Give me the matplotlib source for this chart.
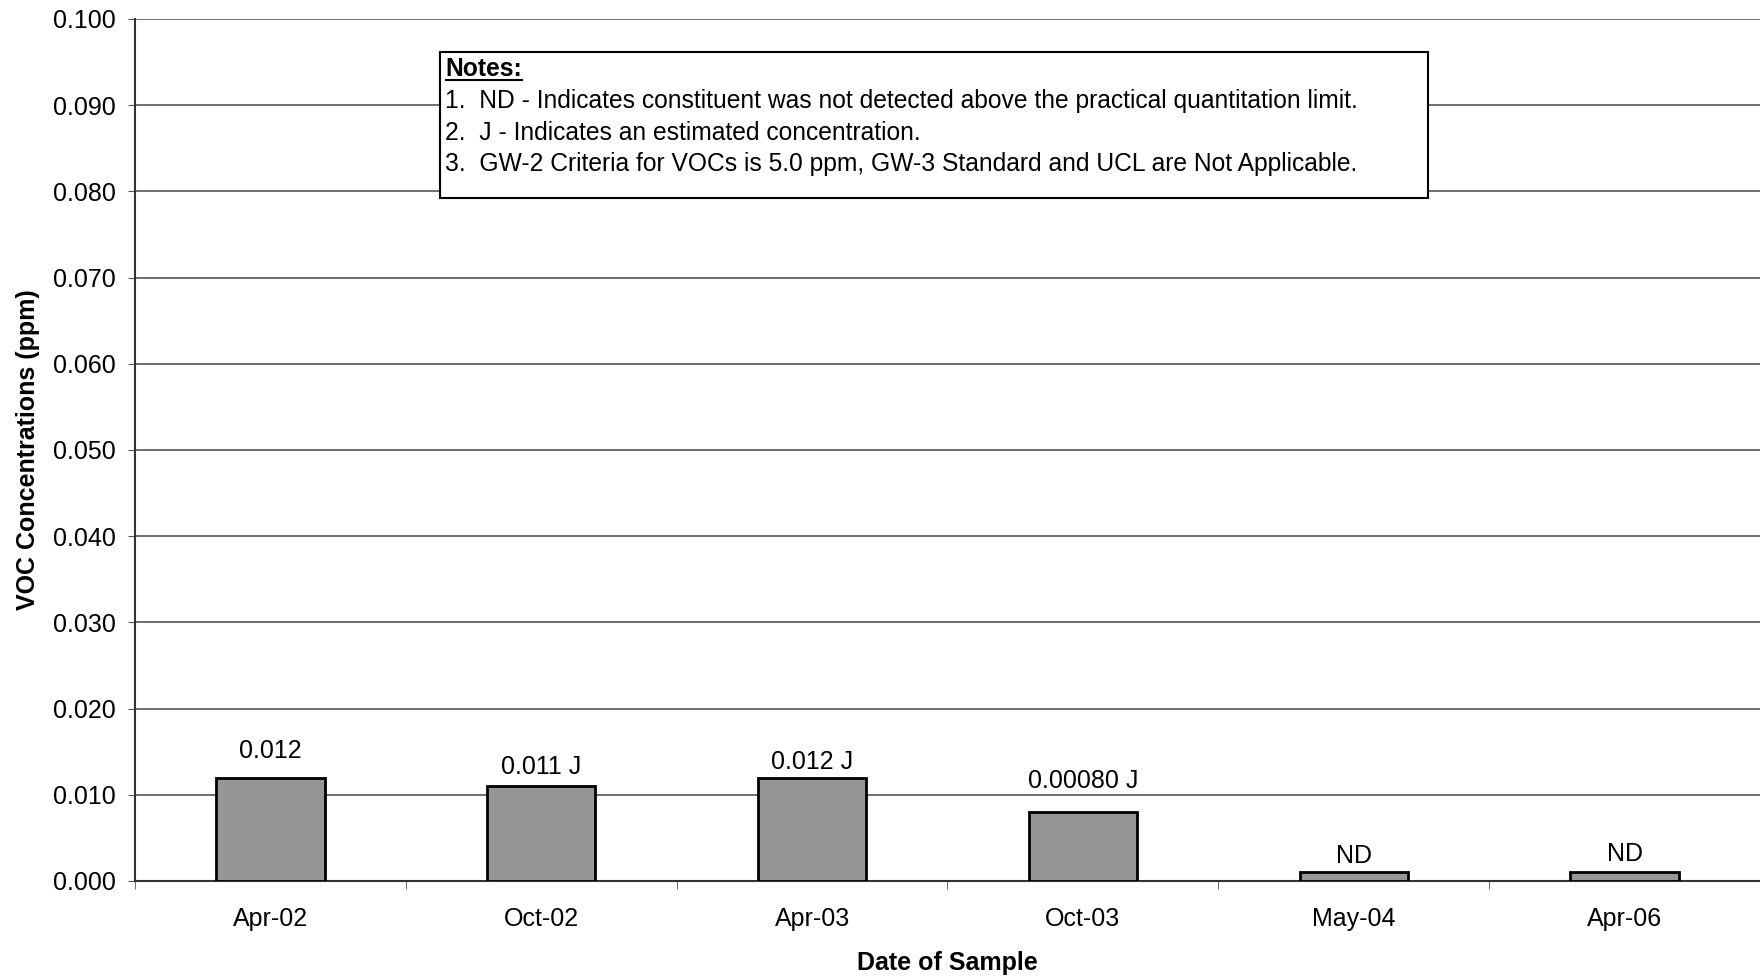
import matplotlib
matplotlib.use('Agg')
import matplotlib.pyplot as plt
import numpy as np

plt.rcParams['font.family'] = ['Liberation Sans', 'DejaVu Sans']

dates = ['Apr-02', 'Oct-02', 'Apr-03', 'Oct-03', 'May-04', 'Apr-06']
conc = [0.012, 0.011, 0.012, 0.008, 0.001, 0.001]
labels = ['0.012', '0.011 J', '0.012 J', '0.00080 J', 'ND', 'ND']
notes = ['1.  ND - Indicates constituent was not detected above the practical quantitation limit.',
         '2.  J - Indicates an estimated concentration.',
         '3.  GW-2 Criteria for VOCs is 5.0 ppm, GW-3 Standard and UCL are Not Applicable.']

fig = plt.figure(figsize=(17.6, 9.77), dpi=100)
ax = fig.add_axes([0.0767, 0.0983, 0.9233, 0.8823])

x = np.arange(len(dates))
ax.bar(x, conc, width=0.4, color='#969696', edgecolor='black', linewidth=2, zorder=3)

# label offsets (points) roughly as Excel placed them
offs = [19, 14, 11, 22, 12, 13]
for xi, v, lab, o in zip(x, conc, labels, offs):
    ax.annotate(lab, (xi, v), xytext=(0, o), textcoords='offset points',
                ha='center', va='center', fontsize=18)

ax.set_xlim(-0.5, len(dates) - 0.5)
ax.set_ylim(0, 0.1)
ax.set_yticks(np.arange(0, 0.1001, 0.01))
ax.set_yticklabels(['%.3f' % t for t in np.arange(0, 0.1001, 0.01)], fontsize=18)
ax.set_xticks(x)
ax.set_xticklabels(dates, fontsize=18)
ax.set_xticks(np.arange(-0.5, len(dates)), minor=True)
ax.tick_params(axis='x', which='major', length=0, pad=19)
ax.tick_params(axis='x', which='minor', length=6, color='#555555')
ax.tick_params(axis='y', length=5, color='#555555', pad=8.5)
ax.yaxis.grid(True, color='#555555', linewidth=1.2, zorder=0)
for s in ['top', 'right']:
    ax.spines[s].set_visible(False)
ax.spines['left'].set_color('#333333')
ax.spines['left'].set_linewidth(1.5)
ax.spines['bottom'].set_color('#333333')
ax.spines['bottom'].set_linewidth(1.5)

ax.set_ylabel('VOC Concentrations (ppm)', fontsize=18, fontweight='bold')
ax.yaxis.set_label_coords(-0.0585, 0.5)
ax.set_xlabel('Date of Sample', fontsize=18, fontweight='bold')
ax.xaxis.set_label_coords(0.5, -0.081)

# notes box
box = plt.Rectangle((0.1877, 0.7923), 0.608, 0.1694, transform=ax.transAxes,
                    facecolor='white', edgecolor='black', linewidth=1.5, zorder=5)
ax.add_patch(box)
t = ax.text(0.1911, 0.9417, 'Notes:', transform=ax.transAxes, fontsize=17.7,
            fontweight='bold', va='center', zorder=6)
fig.canvas.draw()
bb = t.get_window_extent().transformed(ax.transAxes.inverted())
ax.plot([bb.x0, bb.x1], [bb.y0 + 0.001, bb.y0 + 0.001], transform=ax.transAxes,
        color='black', linewidth=1.5, zorder=6)
for i, line in enumerate(notes):
    ax.text(0.1905, 0.9047 - i * 0.0365, line, transform=ax.transAxes, fontsize=17.7,
            va='center', zorder=6)

fig.savefig('out.png', dpi=100)
